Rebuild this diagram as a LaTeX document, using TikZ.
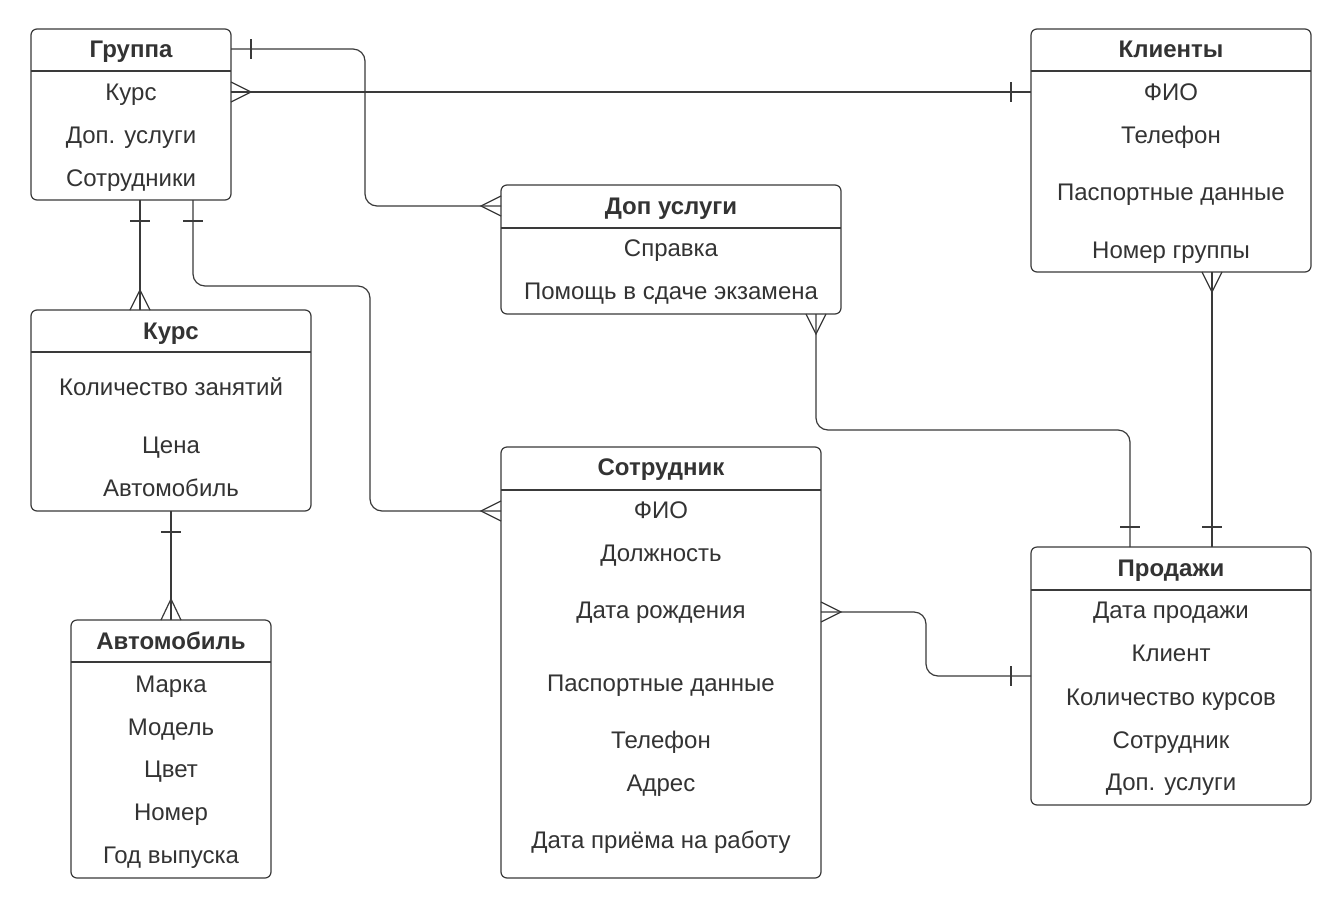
\documentclass[tikz,border=0pt]{standalone}
\usepackage{fontspec}
\setmainfont{Liberation Sans}
\definecolor{ln}{HTML}{3A3A3A}
\definecolor{tx}{HTML}{333333}
\begin{document}
\begin{tikzpicture}[x=1pt,y=-1pt,
  ent/.style={draw=ln, line width=1.2pt, rounded corners=6pt, anchor=north west, inner sep=0pt, outer sep=0pt},
  sep/.style={draw=ln, line width=1.1pt},
  conn/.style={draw=ln, line width=1.2pt, rounded corners=12pt},
  tick/.style={draw=ln, line width=1.2pt},
  txt/.style={text=tx, font=\fontsize{24}{28}\selectfont, anchor=base, inner sep=0pt},
  hdr/.style={text=tx, font=\fontsize{24}{28}\selectfont\bfseries, anchor=base, inner sep=0pt}]
\useasboundingbox (0,0) rectangle (1342,922);
\fill[white] (0,0) rectangle (1342,922);

% ---------- entities ----------
\node[ent, minimum width=200pt, minimum height=171pt] (grp) at (31,29) {};
\draw[sep] (grp.west |- 0,71) -- (grp.east |- 0,71);
\node[hdr] (grph) at (131,57) {Группа};
\node[txt] (grp1) at (131,100) {Курс};
\node[txt] (grp2) at (131,143) {Доп. услуги};
\node[txt] (grp3) at (131,186) {Сотрудники};

\node[ent, minimum width=280pt, minimum height=243pt] (kli) at (1031,29) {};
\draw[sep] (kli.west |- 0,71) -- (kli.east |- 0,71);
\node[hdr] (klih) at (1171,57) {Клиенты};
\node[txt] (kli1) at (1171,100) {ФИО};
\node[txt] (kli2) at (1171,143) {Телефон};
\node[txt] (kli3) at (1171,200) {Паспортные данные};
\node[txt] (kli4) at (1171,258) {Номер группы};

\node[ent, minimum width=340pt, minimum height=129pt] (dop) at (501,185) {};
\draw[sep] (dop.west |- 0,228) -- (dop.east |- 0,228);
\node[hdr] (doph) at (671,214) {Доп услуги};
\node[txt] (dop1) at (671,256) {Справка};
\node[txt] (dop2) at (671,299) {Помощь в сдаче экзамена};

\node[ent, minimum width=280pt, minimum height=201pt] (kurs) at (31,310) {};
\draw[sep] (kurs.west |- 0,352) -- (kurs.east |- 0,352);
\node[hdr] (kursh) at (171,339) {Курс};
\node[txt] (kurs1) at (171,395) {Количество занятий};
\node[txt] (kurs2) at (171,453) {Цена};
\node[txt] (kurs3) at (171,496) {Автомобиль};

\node[ent, minimum width=320pt, minimum height=431pt] (sotr) at (501,447) {};
\draw[sep] (sotr.west |- 0,490) -- (sotr.east |- 0,490);
\node[hdr] (sotrh) at (661,475) {Сотрудник};
\node[txt] (sotr1) at (661,518) {ФИО};
\node[txt] (sotr2) at (661,561) {Должность};
\node[txt] (sotr3) at (661,618) {Дата рождения};
\node[txt] (sotr4) at (661,691) {Паспортные данные};
\node[txt] (sotr5) at (661,748) {Телефон};
\node[txt] (sotr6) at (661,791) {Адрес};
\node[txt] (sotr7) at (661,848) {Дата приёма на работу};

\node[ent, minimum width=200pt, minimum height=258pt] (avto) at (71,620) {};
\draw[sep] (avto.west |- 0,662) -- (avto.east |- 0,662);
\node[hdr] (avtoh) at (171,649) {Автомобиль};
\node[txt] (avto1) at (171,692) {Марка};
\node[txt] (avto2) at (171,735) {Модель};
\node[txt] (avto3) at (171,777) {Цвет};
\node[txt] (avto4) at (171,820) {Номер};
\node[txt] (avto5) at (171,863) {Год выпуска};

\node[ent, minimum width=280pt, minimum height=258pt] (prod) at (1031,547) {};
\draw[sep] (prod.west |- 0,590) -- (prod.east |- 0,590);
\node[hdr] (prodh) at (1171,576) {Продажи};
\node[txt] (prod1) at (1171,618) {Дата продажи};
\node[txt] (prod2) at (1171,661) {Клиент};
\node[txt] (prod3) at (1171,705) {Количество курсов};
\node[txt] (prod4) at (1171,748) {Сотрудник};
\node[txt] (prod5) at (1171,790) {Доп. услуги};

% ---------- connectors ----------
% Группа -> Доп услуги
\draw[conn] (grp.east |- 0,49) -- (365,49) -- (365,206) -- (dop.west |- 0,206);
\draw[tick] (251,39) -- (251,59);
\draw[tick] (dop.west |- 0,196) -- (481,206) -- (dop.west |- 0,216);

% Группа -> Клиенты
\draw[conn] (grp.east |- 0,92) -- (kli.west |- 0,92);
\draw[tick] (grp.east |- 0,82) -- (251,92) -- (grp.east |- 0,102);
\draw[tick] (1011,82) -- (1011,102);

% Группа -> Курс
\draw[conn] (140,0 |- grp.south) -- (140,0 |- kurs.north);
\draw[tick] (130,221) -- (150,221);
\draw[tick] (130,0 |- kurs.north) -- (140,290) -- (150,0 |- kurs.north);

% Группа -> Сотрудник
\draw[conn] (193,0 |- grp.south) -- (193,286) -- (370,286) -- (370,511) -- (sotr.west |- 0,511);
\draw[tick] (183,221) -- (203,221);
\draw[tick] (sotr.west |- 0,501) -- (481,511) -- (sotr.west |- 0,521);

% Доп услуги -> Продажи
\draw[conn] (816,0 |- dop.south) -- (816,430) -- (1130,430) -- (1130,0 |- prod.north);
\draw[tick] (806,0 |- dop.south) -- (816,334) -- (826,0 |- dop.south);
\draw[tick] (1120,527) -- (1140,527);

% Клиенты -> Продажи
\draw[conn] (1212,0 |- kli.south) -- (1212,0 |- prod.north);
\draw[tick] (1202,0 |- kli.south) -- (1212,292) -- (1222,0 |- kli.south);
\draw[tick] (1202,527) -- (1222,527);

% Курс -> Автомобиль
\draw[conn] (171,0 |- kurs.south) -- (171,0 |- avto.north);
\draw[tick] (161,532) -- (181,532);
\draw[tick] (161,0 |- avto.north) -- (171,599) -- (181,0 |- avto.north);

% Сотрудник -> Продажи
\draw[conn] (sotr.east |- 0,612) -- (926,612) -- (926,676) -- (prod.west |- 0,676);
\draw[tick] (sotr.east |- 0,602) -- (841,612) -- (sotr.east |- 0,622);
\draw[tick] (1011,666) -- (1011,686);
\end{tikzpicture}
\end{document}
